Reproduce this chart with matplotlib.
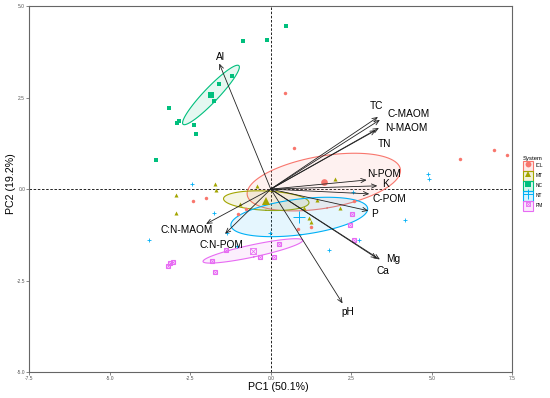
import numpy as np
import matplotlib
matplotlib.use('Agg')
import matplotlib.pyplot as plt
from matplotlib.patches import Rectangle
from matplotlib.lines import Line2D
from matplotlib.legend_handler import HandlerTuple

plt.rcParams['font.family'] = ['Liberation Sans', 'DejaVu Sans']

# individuals (PC1, PC2) per system
systems = ['ICL', 'MT', 'NC', 'NT', 'PM']
colors = ['#F8766D', '#A3A500', '#00BF7D', '#00B0F6', '#E76BF3']

icl_x = [0.44, 0.72, 5.88, 6.93, 7.34, -2.42, -2.01, -1.02, -0.77, 0.85, 1.25, 2.58]
icl_y = [2.62, 1.12, 0.82, 1.07, 0.93, -0.33, -0.24, -0.68, -0.54, -1.09, -1.04, -0.33]
mt_x = [-2.95, -2.94, -1.73, -1.70, -0.97, -0.44, 1.99, 1.44, 1.03, 2.15, 1.19, 1.25]
mt_y = [-0.16, -0.65, 0.13, -0.03, -0.41, 0.09, 0.28, -0.30, -0.52, -0.52, -0.79, -0.90]
nc_x = [-0.86, -0.12, 0.47, -1.21, -1.61, -1.76, -3.16, -2.91, -2.85, -2.39, -2.32, -3.57]
nc_y = [4.04, 4.07, 4.45, 3.09, 2.87, 2.41, 2.21, 1.81, 1.86, 1.75, 1.50, 0.79]
nt_x = [-2.45, -1.76, -3.78, -1.36, -0.03, 4.88, 4.91, 2.55, 4.17, 1.81, 2.74, -1.05]
nt_y = [0.15, -0.64, -1.39, -1.21, -1.21, 0.40, 0.29, -0.08, -0.84, -1.65, -1.39, -1.55]
pm_x = [-1.39, -1.83, -1.72, -3.18, -3.12, -3.03, -0.34, 0.10, 0.27, 2.52, 2.46, 2.58]
pm_y = [-1.65, -1.96, -2.26, -2.10, -2.02, -1.98, -1.85, -1.85, -1.50, -0.68, -0.99, -1.40]

# variable loadings (arrow tips) and label positions
var_names = ['Al', 'TC', 'C-MAOM', 'N-MAOM', 'TN', 'N-POM', 'K', 'C-POM', 'P',
             'Mg', 'Ca', 'pH', 'C:N-MAOM', 'C:N-POM']
var_x = [-1.60, 3.33, 3.39, 3.36, 3.27, 2.98, 3.31, 3.06, 3.03, 3.39, 3.30, 2.23, -2.01, -1.42]
var_y = [3.43, 1.97, 1.89, 1.67, 1.61, 0.25, 0.09, -0.13, -0.59, -1.92, -1.89, -3.12, -0.95, -1.22]
lab_x = [-1.56, 3.27, 4.29, 4.20, 3.52, 3.52, 3.55, 3.67, 3.21, 3.80, 3.48, 2.40, -2.60, -1.52]
lab_y = [3.61, 2.27, 2.05, 1.67, 1.23, 0.41, 0.14, -0.27, -0.68, -1.90, -2.24, -3.36, -1.12, -1.53]

groups = [(icl_x, icl_y), (mt_x, mt_y), (nc_x, nc_y), (nt_x, nt_y), (pm_x, pm_y)]
shapes = ['o', '^', 's', '+', 's']


def conf_ellipse(x, y, npts=100):
    # 95% confidence ellipse of the group mean
    data = np.column_stack([x, y])
    mat = np.cov(data, rowvar=False) / len(x)
    center = data.mean(axis=0)
    vals, vecs = np.linalg.eigh(mat)
    t = np.linspace(0, 2 * np.pi, npts)
    circ = np.column_stack([np.cos(t), np.sin(t)]) * np.sqrt(vals) * np.sqrt(5.991)
    pts = circ @ vecs.T + center
    return pts[:, 0], pts[:, 1]


fig = plt.figure(figsize=(5.5, 3.98), dpi=100)
ax = fig.add_axes([0.0533, 0.0646, 0.878, 0.9204])

ax.axhline(0, color='black', lw=0.6, ls=(0, (3, 2)), zorder=1)
ax.axvline(0, color='black', lw=0.6, ls=(0, (3, 2)), zorder=1)

for (gx, gy), col, shp, name in zip(groups, colors, shapes, systems):
    ex, ey = conf_ellipse(gx, gy)
    ax.fill(ex, ey, color=col, alpha=0.1, lw=0, zorder=2)
    ax.plot(ex, ey, color=col, lw=0.8, zorder=2)
    mx, my = np.mean(gx), np.mean(gy)
    if name == 'PM':
        ax.plot(gx, gy, 's', ms=2.3, mfc='none', mec=col, mew=0.8, ls='none', zorder=3)
        ax.plot(gx, gy, 'x', ms=1.8, mec=col, mew=0.6, ls='none', zorder=3)
        ax.plot(mx, my, 's', ms=5, mfc='none', mec=col, mew=0.6, zorder=3)
        ax.plot(mx, my, 'x', ms=4.5, mec=col, mew=0.5, zorder=3)
    elif name == 'NT':
        ax.plot(gx, gy, '+', ms=3.4, mec=col, mew=0.6, ls='none', zorder=3)
        ax.plot(mx, my, '+', ms=8, mec=col, mew=0.7, zorder=3)
    else:
        ms = 2.9 if shp == '^' else 2.5
        ax.plot(gx, gy, shp, ms=ms, color=col, mew=0, ls='none', zorder=3)
        ax.plot(mx, my, shp, ms=5.2 if shp == '^' else 4.8, color=col, mew=0, zorder=3)

for name, vx, vy, lx, ly in zip(var_names, var_x, var_y, lab_x, lab_y):
    ax.annotate('', xy=(vx, vy), xytext=(0, 0),
                arrowprops=dict(arrowstyle='->,head_length=0.35,head_width=0.15',
                                color='#222222', lw=0.6, shrinkA=0, shrinkB=0),
                zorder=4)
    ax.text(lx, ly, name, fontsize=7.3, ha='center', va='center', color='black', zorder=5)

ax.set_xlim(-7.5, 7.5)
ax.set_ylim(-5, 5)
ax.set_xticks([-7.5, -5.0, -2.5, 0.0, 2.5, 5.0, 7.5])
ax.set_yticks([-5.0, -2.5, 0.0, 2.5, 5.0])
ax.set_xticklabels(['-7.5', '-5.0', '-2.5', '0.0', '2.5', '5.0', '7.5'])
ax.set_yticklabels(['-5.0', '-2.5', '0.0', '2.5', '5.0'])
ax.tick_params(labelsize=3.5, colors='#555555', length=2, width=0.5, pad=1)
for s in ax.spines.values():
    s.set_color('#666666')
    s.set_linewidth(0.8)

fig.text(278 / 550, 1 - 387 / 398, 'PC1 (50.1%)', fontsize=7.7, ha='center', va='center')
fig.text(11 / 550, 1 - 184 / 398, 'PC2 (19.2%)', fontsize=7.7, ha='center', va='center',
         rotation=90)

handles = []
for col, shp, name in zip(colors, shapes, systems):
    box = Rectangle((0, 0), 1, 1, facecolor=col, edgecolor='none', alpha=0.15)
    edge = Rectangle((0, 0), 1, 1, facecolor='none', edgecolor=col, lw=0.8)
    if name == 'PM':
        mk = Line2D([], [], marker='s', ms=3.5, mfc='none', mec=col, mew=0.6, ls='none')
        mk2 = Line2D([], [], marker='x', ms=3.2, mec=col, mew=0.5, ls='none')
        handles.append((box, edge, mk, mk2))
    elif name == 'NT':
        mk = Line2D([], [], marker='+', ms=6.5, mec=col, mew=0.7, ls='none')
        handles.append((box, edge, mk))
    else:
        mk = Line2D([], [], marker=shp, ms=4.2, color=col, mew=0, ls='none')
        handles.append((box, edge, mk))

leg = fig.legend(handles, systems, loc='upper left', bbox_to_anchor=(0.951, 0.608),
                 fontsize=3.5, title='System', title_fontsize=4.2, frameon=False,
                 handler_map={tuple: HandlerTuple(ndivide=1, pad=0)},
                 handlelength=2.06, handleheight=2.79, labelspacing=0.0,
                 handletextpad=0.6, borderaxespad=0, borderpad=0)
leg._legend_box.align = 'left'

fig.savefig('out.png', dpi=100)
